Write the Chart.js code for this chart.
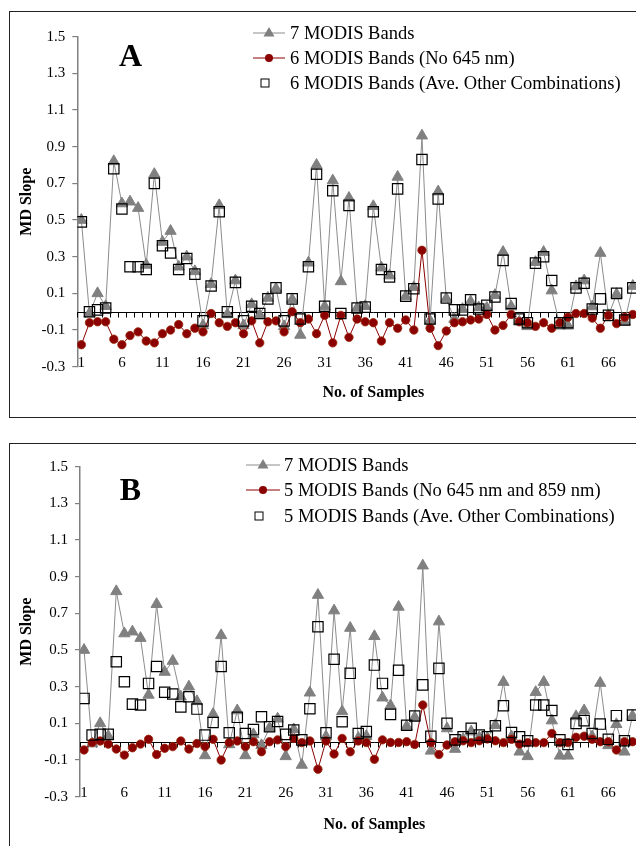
<!DOCTYPE html>
<html>
<head>
<meta charset="utf-8">
<script src="https://cdn.jsdelivr.net/npm/chart.js@4.4.1/dist/chart.umd.min.js"></script>
<style>
  html, body { margin: 0; padding: 0; background: #fff; width: 636px; height: 846px; overflow: hidden; }
  .box { position: absolute; left: 9px; width: 700px; border: 1.5px solid #222; }
  #boxA { top: 11px; height: 405px; }
  #boxB { top: 443px; height: 440px; }
  .wrap { position: absolute; left: 0; width: 700px; }
  #wrapA { top: 0; height: 430px; }
  #wrapB { top: 430px; height: 416px; }
</style>
</head>
<body>
<div class="box" id="boxA"></div>
<div class="box" id="boxB"></div>
<div class="wrap" id="wrapA"><canvas id="chartA"></canvas></div>
<div class="wrap" id="wrapB"><canvas id="chartB"></canvas></div>
<script>
// sample numbers and axis ticks
const samples = Array.from({ length: 69 }, (_, i) => i + 1);
const xTicks = [1, 6, 11, 16, 21, 26, 31, 36, 41, 46, 51, 56, 61, 66];
const yTicks = [-0.3, -0.1, 0.1, 0.3, 0.5, 0.7, 0.9, 1.1, 1.3, 1.5];

// 7 MODIS bands (same series in both panels)
const sevenBands = [0.50, -0.01, 0.10, 0.03, 0.82, 0.59, 0.60, 0.565, 0.255, 0.75,
  0.38, 0.44, 0.245, 0.30, 0.22, -0.075, 0.15, 0.58, -0.015, 0.17,
  -0.075, 0.04, -0.02, 0.075, 0.125, -0.08, 0.067, -0.127, 0.267, 0.80,
  0.028, 0.715, 0.165, 0.62, 0.02, 0.03, 0.575, 0.24, 0.197, 0.735,
  0.083, 0.133, 0.96, -0.05, 0.655, 0.072, -0.04, 0.014, 0.055, 0.023,
  0.02, 0.09, 0.325, 0.028, -0.055, -0.08, 0.27, 0.325, 0.115, -0.077,
  -0.077, 0.138, 0.17, 0.028, 0.32, -0.02, 0.095, -0.055, 0.14];

// panel A
const sixNo645 = [-0.18, -0.06, -0.055, -0.055, -0.15, -0.18, -0.13, -0.11, -0.16, -0.17,
  -0.12, -0.10, -0.07, -0.12, -0.09, -0.11, -0.01, -0.06, -0.08, -0.06,
  -0.12, -0.05, -0.17, -0.055, -0.05, -0.11, 0.0, -0.06, -0.04, -0.12,
  -0.02, -0.17, -0.02, -0.14, -0.04, -0.055, -0.06, -0.16, -0.06, -0.09,
  -0.045, -0.10, 0.335, -0.09, -0.185, -0.105, -0.06, -0.055, -0.045, -0.04,
  -0.015, -0.10, -0.075, -0.015, -0.055, -0.06, -0.08, -0.06, -0.09, -0.06,
  -0.03, -0.01, -0.01, -0.035, -0.09, -0.02, -0.065, -0.03, -0.015];
const sixAveOther = [0.49, 0.0, 0.01, 0.02, 0.78, 0.56, 0.245, 0.245, 0.23, 0.70,
  0.36, 0.32, 0.23, 0.29, 0.205, -0.05, 0.14, 0.545, 0.0, 0.16,
  -0.05, 0.03, -0.01, 0.07, 0.13, -0.05, 0.07, -0.04, 0.245, 0.75,
  0.03, 0.66, -0.01, 0.58, 0.02, 0.025, 0.545, 0.23, 0.19, 0.67,
  0.085, 0.125, 0.83, -0.04, 0.615, 0.075, 0.01, 0.01, 0.065, 0.015,
  0.035, 0.08, 0.28, 0.045, -0.04, -0.06, 0.265, 0.30, 0.17, -0.06,
  -0.06, 0.13, 0.155, 0.015, 0.07, -0.02, 0.10, -0.045, 0.13];

// panel B
const fiveNo645859 = [-0.045, -0.005, 0.004, -0.013, -0.04, -0.073, -0.033, -0.013, 0.013, -0.07,
  -0.036, -0.027, 0.004, -0.04, -0.01, -0.027, 0.013, -0.10, -0.005, 0.004,
  -0.027, 0.0, -0.055, 0.0, 0.01, -0.027, 0.018, -0.005, 0.004, -0.15,
  0.004, -0.067, 0.018, -0.055, 0.004, -0.005, -0.096, 0.01, -0.004, -0.004,
  0.0, -0.015, 0.20, -0.005, -0.07, -0.018, 0.0, 0.005, -0.005, 0.005,
  0.015, 0.005, -0.005, 0.013, -0.013, -0.005, -0.005, -0.005, 0.045, -0.005,
  -0.005, 0.024, 0.03, 0.013, 0.0, 0.0, -0.045, 0.0, 0.0];
const fiveAveOther = [0.236, 0.036, 0.04, 0.04, 0.436, 0.327, 0.205, 0.20, 0.318, 0.41,
  0.27, 0.26, 0.19, 0.245, 0.178, 0.036, 0.105, 0.41, 0.049, 0.133,
  0.045, 0.066, 0.136, 0.082, 0.11, 0.04, 0.064, 0.01, 0.18, 0.627,
  0.049, 0.45, 0.109, 0.373, 0.045, 0.055, 0.418, 0.318, 0.149, 0.39,
  0.09, 0.14, 0.31, 0.03, 0.40, 0.10, 0.01, 0.027, 0.073, 0.036,
  0.027, 0.087, 0.196, 0.05, 0.027, 0.005, 0.20, 0.20, 0.17, 0.01,
  -0.015, 0.10, 0.115, 0.045, 0.096, 0.013, 0.142, 0.005, 0.145];

const SERIF = "'Liberation Serif', 'Times New Roman', serif";
Chart.defaults.font.family = SERIF;
Chart.defaults.color = '#000';

// horizontal line at y = 0 with small ticks between samples
const zeroLine = {
  id: 'zeroLine',
  beforeDatasetsDraw(chart) {
    const { ctx, chartArea, scales: { x, y } } = chart;
    const y0 = Math.round(y.getPixelForValue(0)) + 0.5;
    ctx.save();
    ctx.strokeStyle = '#000';
    ctx.lineWidth = 1;
    ctx.beginPath();
    ctx.moveTo(chartArea.left, y0);
    ctx.lineTo(chartArea.right, y0);
    for (let v = x.min; v <= x.max; v++) {
      const px = Math.round(x.getPixelForValue(v)) + 0.5;
      ctx.moveTo(px, y0);
      ctx.lineTo(px, y0 + 5);
    }
    ctx.stroke();
    ctx.restore();
  }
};

// panel letter and legend list inside the plot
const panelDeco = {
  id: 'panelDeco',
  afterDraw(chart, args, o) {
    const ctx = chart.ctx;
    ctx.save();
    ctx.fillStyle = '#000';
    ctx.font = 'bold 32px ' + SERIF;
    ctx.textAlign = 'center';
    ctx.textBaseline = 'middle';
    ctx.fillText(o.letter, o.letterX, o.letterY);

    ctx.font = '18.5px ' + SERIF;
    ctx.textAlign = 'left';
    chart.data.datasets.forEach((ds, i) => {
      const cy = o.rows[i];
      const cx = o.lineX + o.lineW / 2;
      if (ds.showLine !== false) {
        ctx.strokeStyle = ds.borderColor;
        ctx.lineWidth = 1;
        ctx.beginPath();
        ctx.moveTo(o.lineX, cy);
        ctx.lineTo(o.lineX + o.lineW, cy);
        ctx.stroke();
      }
      ctx.beginPath();
      if (ds.pointStyle === 'triangle') {
        ctx.fillStyle = ds.pointBackgroundColor;
        ctx.moveTo(cx, cy - 6);
        ctx.lineTo(cx + 5.5, cy + 3.5);
        ctx.lineTo(cx - 5.5, cy + 3.5);
        ctx.closePath();
        ctx.fill();
      } else if (ds.pointStyle === 'circle') {
        ctx.fillStyle = ds.pointBackgroundColor;
        ctx.arc(cx, cy, 4, 0, Math.PI * 2);
        ctx.fill();
      } else {
        ctx.strokeStyle = '#000';
        ctx.lineWidth = 1;
        ctx.strokeRect(cx - 8, cy - 4, 8, 8);
      }
      ctx.fillStyle = '#000';
      ctx.fillText(ds.label, o.textX, cy + 1);
    });
    ctx.restore();
  }
};

function makeDatasets(redLabel, redData, boxLabel, boxData) {
  return [
    {
      label: '7 MODIS Bands',
      data: sevenBands,
      borderColor: '#8c8c8c',
      borderWidth: 1,
      pointStyle: 'triangle',
      pointRadius: 6.5,
      pointBackgroundColor: '#808080',
      pointBorderColor: '#808080',
      pointBorderWidth: 1,
      order: 3
    },
    {
      label: redLabel,
      data: redData,
      borderColor: '#8b0000',
      borderWidth: 1,
      pointStyle: 'circle',
      pointRadius: 4.2,
      pointBackgroundColor: '#8b0000',
      pointBorderColor: '#9a2a0a',
      pointBorderWidth: 0.8,
      order: 2
    },
    {
      label: boxLabel,
      data: boxData,
      showLine: false,
      pointStyle: 'rect',
      pointRadius: 7.3,
      pointBackgroundColor: 'rgba(0,0,0,0)',
      pointBorderColor: '#000',
      pointBorderWidth: 1.2,
      order: 1
    }
  ];
}

function makeOptions(axisW, padRight, padBottom, titlePadBottom, deco) {
  return {
    responsive: true,
    maintainAspectRatio: false,
    devicePixelRatio: 1,
    animation: false,
    events: [],
    layout: { padding: { left: 0, top: 36.7, right: padRight, bottom: padBottom } },
    plugins: {
      legend: { display: false },
      tooltip: { enabled: false },
      panelDeco: deco
    },
    scales: {
      x: {
        type: 'linear',
        min: 0.5,
        max: 73.5,
        grid: { display: false, drawTicks: false },
        border: { display: false },
        afterBuildTicks: s => { s.ticks = xTicks.map(v => ({ value: v })); },
        afterFit: s => { s.height = 40; },
        // mirror keeps the labels from being clipped to the scale box
        ticks: { autoSkip: false, maxRotation: 0, mirror: true, padding: -5.3, font: { size: 15 }, callback: v => String(v) },
        title: { display: true, text: 'No. of Samples', font: { size: 16, weight: 'bold' }, padding: { top: 0, bottom: titlePadBottom } }
      },
      y: {
        min: -0.3,
        max: 1.5,
        grid: { drawOnChartArea: false, drawTicks: true, tickLength: 5, color: '#808080', lineWidth: 1.2 },
        border: { display: true, color: '#808080', width: 1.5 },
        afterBuildTicks: s => { s.ticks = yTicks.map(v => ({ value: v })); },
        afterFit: s => { s.width = axisW; },
        ticks: { padding: 7, font: { size: 15 }, callback: v => v.toFixed(1) },
        title: { display: true, text: 'MD Slope', font: { size: 16, weight: 'bold' }, padding: { top: 17.4, bottom: 0 } }
      }
    }
  };
}

new Chart(document.getElementById('chartA'), {
  type: 'line',
  data: {
    labels: samples,
    datasets: makeDatasets('6 MODIS Bands (No 645 nm)', sixNo645,
      '6 MODIS Bands (Ave. Other Combinations)', sixAveOther)
  },
  options: makeOptions(77.3, 30.7, 23.3, 4.1,
    { letter: 'A', letterX: 130.5, letterY: 58, lineX: 253, lineW: 32, textX: 290, rows: [33, 58, 83] }),
  plugins: [zeroLine, panelDeco]
});

new Chart(document.getElementById('chartB'), {
  type: 'line',
  data: {
    labels: samples,
    datasets: makeDatasets('5 MODIS Bands (No 645 nm and 859 nm)', fiveNo645859,
      '5 MODIS Bands (Ave. Other Combinations)', fiveAveOther)
  },
  options: makeOptions(80, 31.2, 9.3, 2.1,
    { letter: 'B', letterX: 130.5, letterY: 62, lineX: 246, lineW: 34, textX: 284, rows: [35, 60, 86] }),
  plugins: [zeroLine, panelDeco]
});
</script>
</body>
</html>
